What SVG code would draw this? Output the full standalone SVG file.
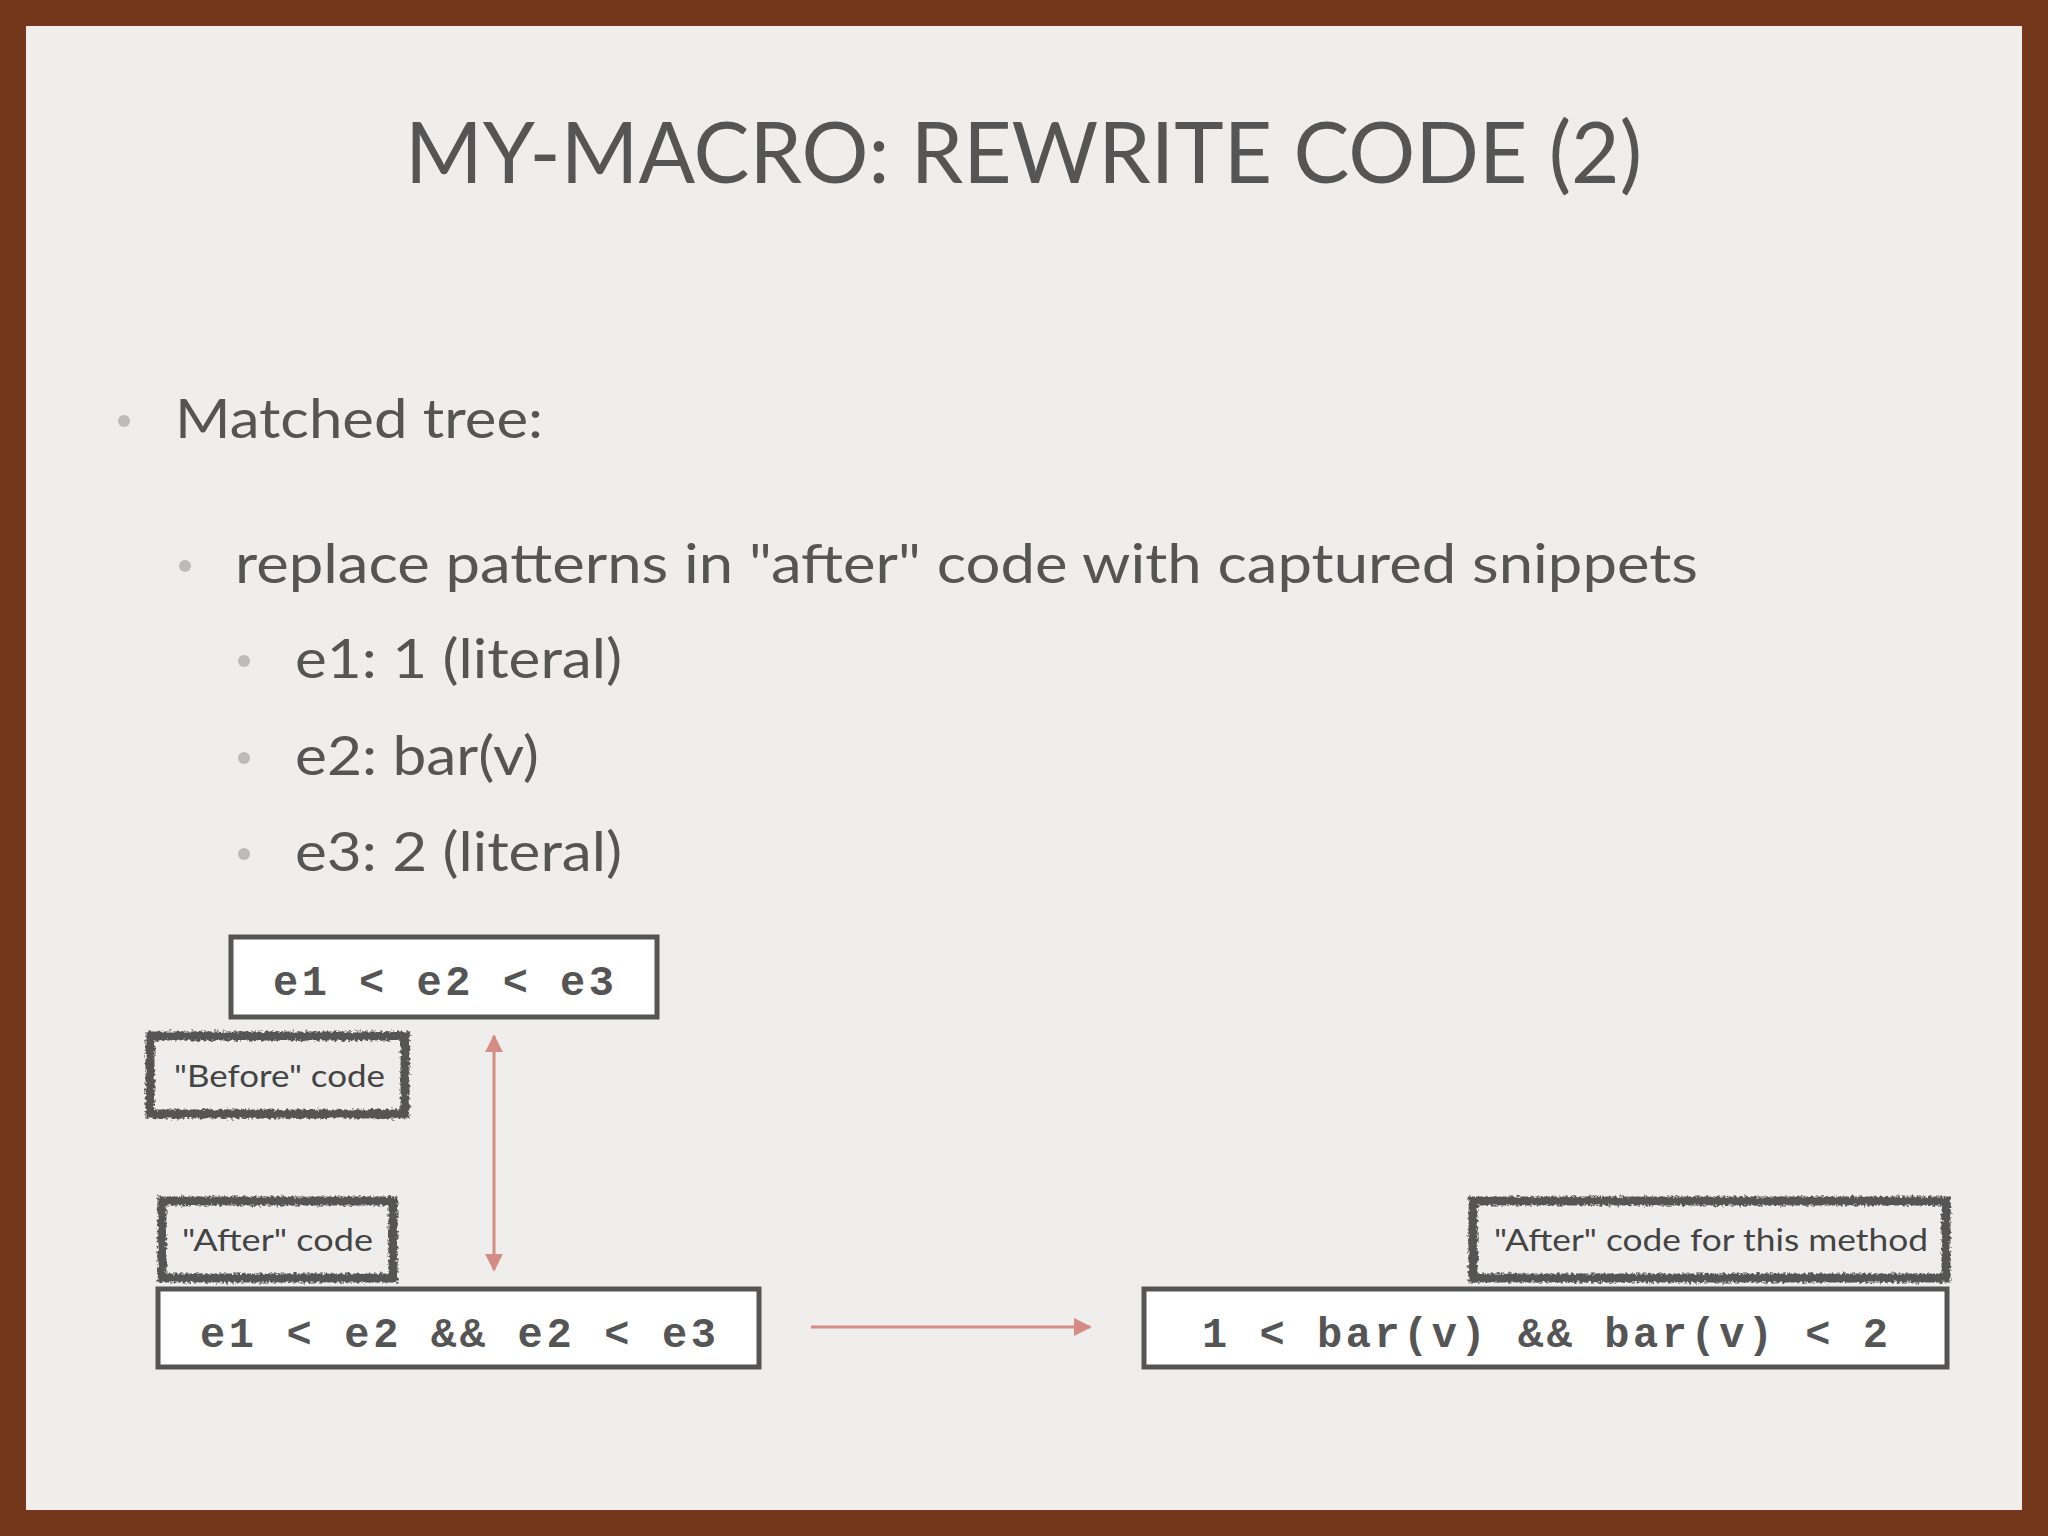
<svg xmlns="http://www.w3.org/2000/svg" width="2048" height="1536" viewBox="0 0 2048 1536">
<style>
.t{font-family:"Lato","Liberation Sans",sans-serif;fill:#555}
.m{font-family:"Liberation Mono",monospace;font-weight:bold;fill:#555;font-size:42px}
.box{fill:#fff;stroke:#555;stroke-width:5}
.rough{fill:none;stroke:#555;stroke-width:9;filter:url(#r)}
.lbl{font-family:"Lato","Liberation Sans",sans-serif;fill:#444;font-size:31px}
.dot{fill:#bbb}
.arr{stroke:#d58c84;stroke-width:3;fill:none}
</style>
<defs>
<filter id="r"><feTurbulence type="fractalNoise" baseFrequency="0.35" numOctaves="2" seed="3"/><feDisplacementMap in="SourceGraphic" scale="6" xChannelSelector="R" yChannelSelector="G"/></filter>
<marker id="ah" viewBox="0 0 10 10" refX="9" refY="5" markerWidth="6" markerHeight="6" orient="auto-start-reverse"><path d="M0,0L10,5L0,10z" fill="#d58c84"/></marker>
</defs>
<rect width="2048" height="1536" fill="#733719"/>
<rect x="26" y="26" width="1996" height="1484" fill="#efeeec"/>
<text class="t" x="405" y="183" font-size="86" textLength="1237" lengthAdjust="spacingAndGlyphs">MY-MACRO: REWRITE CODE (2)</text>
<circle class="dot" cx="124" cy="421" r="6"/>
<text class="t" x="175" y="438" font-size="54" textLength="368" lengthAdjust="spacingAndGlyphs">Matched tree:</text>
<circle class="dot" cx="185" cy="566" r="6"/>
<text class="t" x="235" y="583" font-size="54" textLength="1463" lengthAdjust="spacingAndGlyphs">replace patterns in "after" code with captured snippets</text>
<circle class="dot" cx="244" cy="661" r="6"/>
<text class="t" x="295" y="678" font-size="54" textLength="327" lengthAdjust="spacingAndGlyphs">e1: 1 (literal)</text>
<circle class="dot" cx="244" cy="758" r="6"/>
<text class="t" x="295" y="775" font-size="54" textLength="244" lengthAdjust="spacingAndGlyphs">e2: bar(v)</text>
<circle class="dot" cx="244" cy="854" r="6"/>
<text class="t" x="295" y="871" font-size="54" textLength="327" lengthAdjust="spacingAndGlyphs">e3: 2 (literal)</text>
<g id="connectors">
<line class="arr" x1="494" y1="1036" x2="494" y2="1270" marker-start="url(#ah)" marker-end="url(#ah)"/>
<line class="arr" x1="811" y1="1327" x2="1090" y2="1327" marker-end="url(#ah)"/>
</g>
<g id="before"><rect class="box" x="231" y="937" width="426" height="80"/><text class="m" x="273" y="995" textLength="341">e1 &lt; e2 &lt; e3</text></g>
<g id="beforeLabel"><rect class="rough" x="150" y="1036" width="255" height="78"/><text class="lbl" x="174" y="1087" textLength="211" lengthAdjust="spacingAndGlyphs">"Before" code</text></g>
<g id="afterLabel"><rect class="rough" x="162" y="1201" width="231" height="77"/><text class="lbl" x="182" y="1251" textLength="191" lengthAdjust="spacingAndGlyphs">"After" code</text></g>
<g id="after"><rect class="box" x="158" y="1289" width="601" height="78"/><text class="m" x="200" y="1347" textLength="516">e1 &lt; e2 &amp;&amp; e2 &lt; e3</text></g>
<g id="methodLabel"><rect class="rough" x="1473" y="1201" width="473" height="77"/><text class="lbl" x="1494" y="1251" textLength="434" lengthAdjust="spacingAndGlyphs">"After" code for this method</text></g>
<g id="result"><rect class="box" x="1144" y="1289" width="803" height="78"/><text class="m" x="1202" y="1347" textLength="686">1 &lt; bar(v) &amp;&amp; bar(v) &lt; 2</text></g>
</svg>
